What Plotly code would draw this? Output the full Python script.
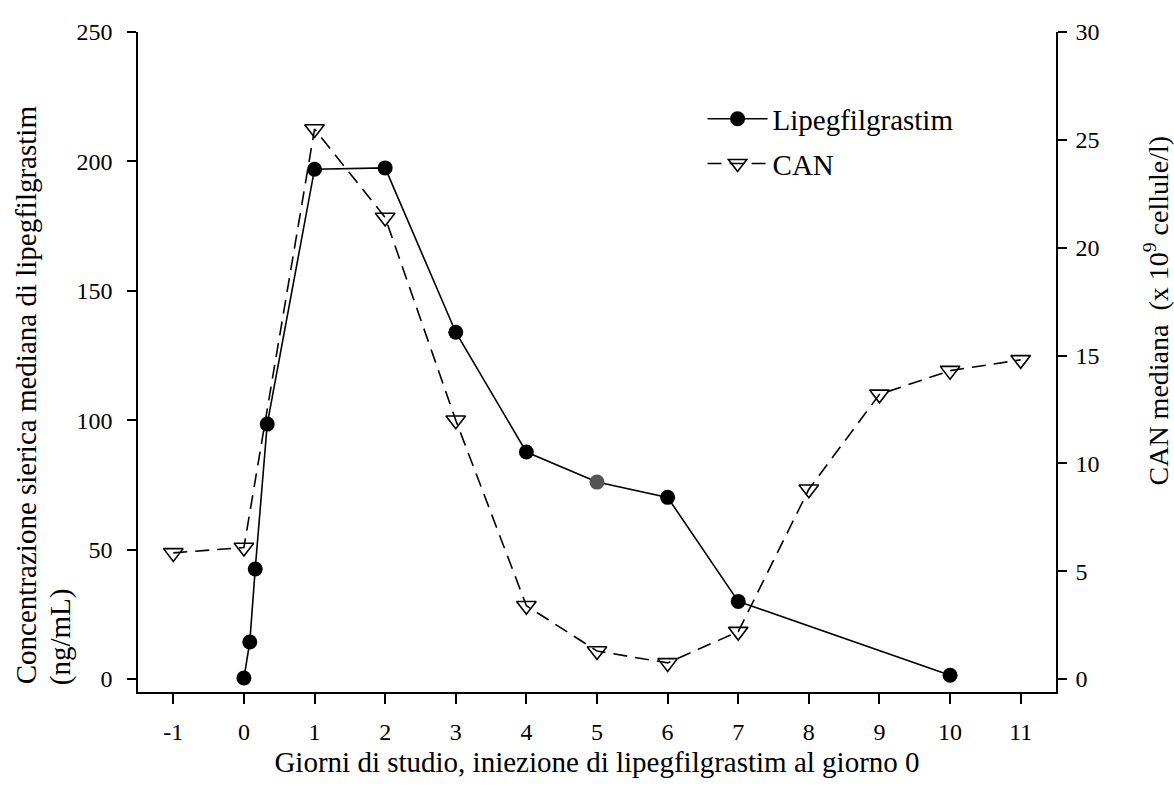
import plotly.graph_objects as go

# Lipegfilgrastim median serum concentration (ng/mL), left axis
lipeg_days = [0, 0.083, 0.16, 0.33, 1, 2, 3, 4, 5, 6, 7, 10]
lipeg_conc = [0.4, 14.3, 42.5, 98.5, 197, 197.5, 134, 87.7, 76.1, 70.2, 30, 1.5]
lipeg_marker_colors = ["black"] * 8 + ["#555555"] + ["black"] * 3

# CAN median (x10^9 cells/l), right axis
can_days = [-1, 0, 1, 2, 3, 4, 5, 6, 7, 8, 9, 10, 11]
can_vals = [5.85, 6.1, 25.5, 21.4, 12.0, 3.4, 1.3, 0.75, 2.2, 8.8, 13.2, 14.3, 14.8]

x_ticks = list(range(-1, 12))
x_ticktext = [str(v) for v in x_ticks]
y_left_ticks = [0, 50, 100, 150, 200, 250]
y_right_ticks = [0, 5, 10, 15, 20, 25, 30]

FONT = "Liberation Serif"
TICK_SIZE = 24
TITLE_SIZE = 29

fig = go.Figure()
fig.add_trace(go.Scatter(
    x=lipeg_days, y=lipeg_conc, name="Lipegfilgrastim", mode="lines+markers",
    line=dict(color="black", width=1.6),
    marker=dict(symbol="circle", size=15, color=lipeg_marker_colors),
    yaxis="y", legendgroup="a",
))
fig.add_trace(go.Scatter(
    x=can_days, y=can_vals, name="CAN", mode="lines+markers",
    line=dict(color="black", width=1.6, dash="14px,8px"),
    marker=dict(symbol="triangle-down-open", size=17, color="black",
                line=dict(width=1.6, color="black")),
    yaxis="y2", legendgroup="b",
))

axis_common = dict(
    showgrid=False, zeroline=False, showline=True, linecolor="black", linewidth=1.5,
    ticks="outside", tickcolor="black", tickwidth=1.5,
    tickfont=dict(family=FONT, size=TICK_SIZE, color="black"),
)

fig.update_layout(
    width=1174, height=797,
    margin=dict(l=138, r=118, t=32, b=105),
    paper_bgcolor="white", plot_bgcolor="white",
    font=dict(family=FONT, size=TICK_SIZE, color="black"),
    showlegend=True,
    legend=dict(x=0.615, y=0.907, xanchor="left", yanchor="top",
                bgcolor="rgba(0,0,0,0)", font=dict(family=FONT, size=TITLE_SIZE, color="black"),
                itemwidth=60, tracegroupgap=4, traceorder="grouped"),
    xaxis=dict(range=[-1.5, 11.5], tickvals=x_ticks, ticktext=x_ticktext, ticklen=10,
               ticklabelstandoff=7,
               title=dict(text="Giorni di studio, iniezione di lipegfilgrastim al giorno 0",
                          font=dict(family=FONT, size=TITLE_SIZE, color="black"), standoff=8),
               **axis_common),
    yaxis=dict(range=[-5, 250], tickvals=y_left_ticks, ticklen=9,
               ticklabelstandoff=10, **axis_common),
    yaxis2=dict(range=[-0.6, 30], tickvals=y_right_ticks, ticklen=9,
                overlaying="y", side="right", ticklabelstandoff=4, **axis_common),
)

# Left axis title (two lines, bottom-aligned)
fig.add_annotation(text="Concentrazione sierica mediana di lipegfilgrastim",
                   textangle=-90, xref="paper", yref="paper",
                   x=-0.122, y=0.008, xanchor="center", yanchor="bottom",
                   showarrow=False, font=dict(family=FONT, size=TITLE_SIZE, color="black"))
fig.add_annotation(text="(ng/mL)",
                   textangle=-90, xref="paper", yref="paper",
                   x=-0.085, y=0.008, xanchor="center", yanchor="bottom",
                   showarrow=False, font=dict(family=FONT, size=TITLE_SIZE, color="black"))
# Right axis title
fig.add_annotation(text="CAN mediana  (x 10<sup>9</sup> cellule/l)",
                   textangle=-90, xref="paper", yref="paper",
                   x=1.110, y=0.578, xanchor="center", yanchor="middle",
                   showarrow=False, font=dict(family=FONT, size=TITLE_SIZE - 1, color="black"))

fig.write_html("out.html",
               config={"displayModeBar": False},
               post_script="document.body.style.margin='0';document.body.style.overflow='hidden';")
